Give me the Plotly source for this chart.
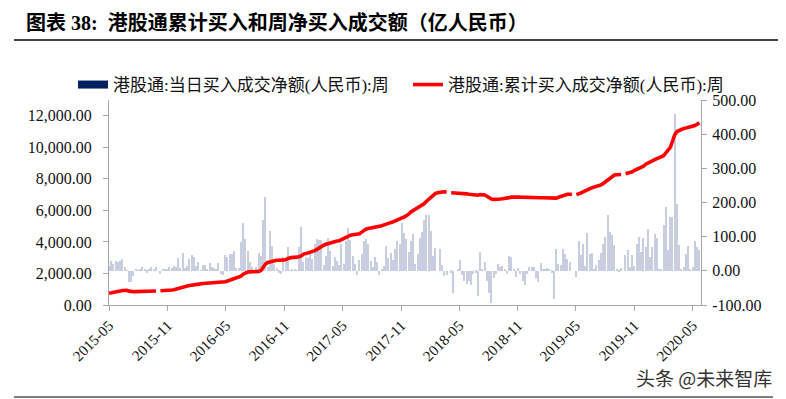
import pandas as pd
import plotly.graph_objects as go

# ---- data (亿人民币), weekly from 2015-05-01 ----
week_start = "2015-05-01"
n_weeks = 265
weeks = pd.date_range(week_start, periods=n_weeks, freq="7D")

weekly_net_buy = [
    15, 29, 20, 29, 25, 29, 35, 10, 2, -34,
    -34, -15, 5, 2, 5, 12, 3, -5, 3, 10,
    5, 12, None, -8, 5, 5, 3, 12, 8, 15,
    10, 39, 8, 53, 8, 15, 35, 47, 41, 15,
    27, 2, 18, 18, 3, 22, 12, 8, 5, 22,
    -8, -12, 47, 41, 49, 49, 59, 8, 8, 83,
    141, 94, 59, 25, 12, -5, 12, 51, 43, 150,
    216, 10, 116, 73, 20, 8, -5, -10, 41, 27,
    69, 2, 3, 5, 2, 70, 129, 27, 41, 39,
    53, 35, 80, 93, 90, 90, 18, 44, 96, 59,
    15, 41, 29, 18, 78, 20, 86, 125, 90, 44,
    20, -12, 31, 49, 86, 94, 80, 29, 10, 41,
    27, -12, 5, 15, 73, 39, 53, 31, 64, 86,
    80, 140, 110, 94, 55, 88, 108, 20, 49, 95,
    115, 149, 162, 162, 118, 44, 67, 0, 64, 18,
    -14, -12, None, -5, -65, 0, 3, 31, -12, -31,
    -39, -30, -40, -10, -5, -74, 55, 5, 27, -30,
    -66, -95, -22, -8, 20, 10, 15, 5, -8, 44,
    40, 3, -18, 8, -8, -30, -42, -8, 10, 12,
    12, -20, -32, 22, 3, 3, 8, 3, -5, -83,
    64, 20, 18, 64, 50, 35, 27, 0, None, -18,
    86, 47, 80, 15, 110, 49, 52, 5, 18, 32,
    52, 78, 98, 162, 113, 105, 75, 3, -3, 8,
    None, 46, 62, 10, 46, 15, 79, 100, 54, 95,
    69, 121, 40, 71, 108, 95, 3, 5, 134, 186,
    62, 157, 157, 459, 196, 75, 5, 10, 49, 74,
    5, 12, 86, 69, 60,
]

cumulative_net_buy = [
    740, 760, 790, 820, 850, 880, 920, 950, 930, 880,
    840, 840, 850, 850, 860, 860, 870, 870, 880, 880,
    890, 890, None, 900, 900, 910, 920, 930, 950, 970,
    1000, 1040, 1090, 1140, 1170, 1200, 1240, 1270, 1300, 1320,
    1330, 1340, 1360, 1370, 1380, 1390, 1400, 1400, 1410, 1410,
    1410, 1440, 1470, 1520, 1570, 1620, 1660, 1700, 1740, 1830,
    1950, 2050, 2090, 2100, 2100, 2100, 2110, 2130, 2200, 2420,
    2600, 2700, 2740, 2790, 2820, 2840, 2840, 2840, 2850, 2870,
    2950, 3010, 3020, 3020, 3030, 3060, 3120, 3230, 3260, 3300,
    3350, 3400, 3450, 3530, 3640, 3720, 3790, 3850, 3900, 3950,
    3990, 4030, 4060, 4080, 4150, 4220, 4330, 4400, 4430, 4460,
    4470, 4500, 4520, 4620, 4760, 4820, 4850, 4880, 4900, 4910,
    4920, 4960, 5030, 5080, 5120, 5160, 5220, 5270, 5340, 5420,
    5480, 5530, 5580, 5660, 5760, 5900, 5990, 6040, 6110, 6200,
    6300, 6430, 6580, 6700, 6870, 7000, 7080, 7120, 7160, 7170,
    7180, 7170, None, 7120, 7110, 7130, 7140, 7120, 7100, 7080,
    7050, 7020, 7000, 6970, 6930, 6960, 7000, 7010, 6980, 6900,
    6800, 6720, 6700, 6690, 6700, 6720, 6740, 6750, 6770, 6810,
    6840, 6860, 6870, 6850, 6840, 6830, 6840, 6850, 6830, 6800,
    6790, 6800, 6810, 6800, 6800, 6790, 6800, 6790, 6760, 6750,
    6780, 6830, 6880, 6940, 7000, 7020, 7020, 7010, None, 7000,
    7030, 7100, 7180, 7260, 7340, 7400, 7440, 7480, 7520, 7560,
    7620, 7710, 7820, 7930, 8060, 8180, 8240, 8260, 8270, 8280,
    None, 8320, 8360, 8380, 8450, 8540, 8600, 8660, 8720, 8800,
    8930, 8980, 9060, 9140, 9220, 9290, 9330, 9370, 9470, 9640,
    9790, 10000, 10400, 10800, 11000, 11080, 11160, 11200, 11230, 11260,
    11300, 11340, 11380, 11460, 11560,
]

left_tick_vals = [0, 2000, 4000, 6000, 8000, 10000, 12000]
left_tick_text = ["0.00", "2,000.00", "4,000.00", "6,000.00", "8,000.00", "10,000.00", "12,000.00"]
right_tick_vals = [-100, 0, 100, 200, 300, 400, 500]
right_tick_text = ["-100.00", "0.00", "100.00", "200.00", "300.00", "400.00", "500.00"]

bar_name = "港股通:当日买入成交净额(人民币):周"
line_name = "港股通:累计买入成交净额(人民币):周"
title_text = "图表 38:  港股通累计买入和周净买入成交额（亿人民币）"
watermark = "头条 @未来智库"

# ---- figure geometry (page has an 8px body margin) ----
OFF = 8
W, H = 786 - OFF, 399 - OFF
PL, PR, PT, PB = 109, 701, 100, 305          # plot box in page pixels
L, R = PL - OFF, W - (PR - OFF)
T, B = PT - OFF, H - (PB - OFF)
pw, ph = W - L - R, H - T - B

def px(x):
    return (x - OFF - L) / pw

def py(y):
    return (H - B - (y - OFF)) / ph

SERIF = "Liberation Serif, 'Noto Sans CJK SC', serif"
axis_grey = "#a6a6a6"

fig = go.Figure()
fig.add_trace(go.Bar(
    x=weeks, y=weekly_net_buy, yaxis="y", showlegend=False,
    marker=dict(color="#c8cee0", line=dict(width=0)),
    width=0.55 * 7 * 86400000, name=bar_name,
))
fig.add_trace(go.Scatter(
    x=[None], y=[None], yaxis="y", mode="lines", name=bar_name,
    line=dict(color="#002060", width=8),
))
fig.add_trace(go.Scatter(
    x=weeks, y=cumulative_net_buy, yaxis="y2", mode="lines", name=line_name,
    line=dict(color="#ff0000", width=3.6), connectgaps=False,
))

fig.update_layout(
    width=W, height=H,
    margin=dict(l=L, r=R, t=T, b=B, pad=0, autoexpand=False),
    paper_bgcolor="white", plot_bgcolor="white",
    font=dict(family=SERIF, size=15, color="#111111"),
    bargap=0,
    xaxis=dict(
        type="date", range=["2015-05-01", "2020-05-27"],
        tick0="2015-05-01", dtick="M6", tickformat="%Y-%m", tickangle=-45,
        ticks="outside", ticklen=5, tickcolor=axis_grey,
        showline=True, linecolor=axis_grey, linewidth=1,
        showgrid=False, zeroline=False,
        tickfont=dict(family=SERIF, size=15, color="#111111"),
    ),
    yaxis=dict(
        side="right", range=[-100, 500],
        tickmode="array", tickvals=right_tick_vals, ticktext=right_tick_text,
        ticks="outside", ticklen=5, tickcolor=axis_grey,
        showline=True, linecolor=axis_grey, linewidth=1,
        showgrid=False, zeroline=False, ticklabelstandoff=2,
        tickfont=dict(family=SERIF, size=16, color="#111111"),
    ),
    yaxis2=dict(
        side="left", overlaying="y", range=[0, 13000],
        tickmode="array", tickvals=left_tick_vals, ticktext=left_tick_text,
        ticks="outside", ticklen=5, tickcolor=axis_grey,
        showline=True, linecolor=axis_grey, linewidth=1,
        showgrid=False, zeroline=False, ticklabelstandoff=8,
        tickfont=dict(family=SERIF, size=16, color="#111111"),
    ),
    legend=dict(
        orientation="h", x=px(73), y=py(85), xanchor="left", yanchor="middle",
        font=dict(family=SERIF, size=17, color="#111111"),
        bgcolor="rgba(0,0,0,0)", itemwidth=30, tracegroupgap=0,
        entrywidth=290, entrywidthmode="pixels",
    ),
    shapes=[
        dict(type="line", xref="paper", yref="paper", x0=px(14), x1=px(786),
             y0=py(40), y1=py(40), line=dict(color="black", width=1.5)),
        dict(type="line", xref="paper", yref="paper", x0=px(14), x1=px(773),
             y0=py(397), y1=py(397), line=dict(color="black", width=1)),
    ],
    annotations=[
        dict(text="<b>" + title_text + "</b>", xref="paper", yref="paper",
             x=px(24), y=py(22), xanchor="left", yanchor="middle", showarrow=False,
             font=dict(family=SERIF, size=20, color="black")),
        dict(text=watermark, xref="paper", yref="paper",
             x=px(634), y=py(377), xanchor="left", yanchor="middle", showarrow=False,
             font=dict(family="'Noto Sans CJK SC', sans-serif", size=19, color="#333333")),
    ],
)

fig.write_html("out.html")
